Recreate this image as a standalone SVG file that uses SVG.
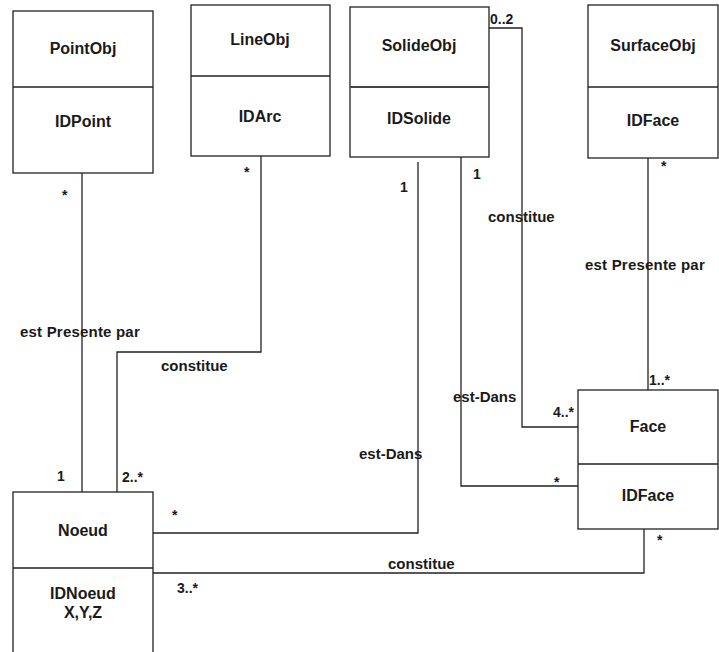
<svg xmlns="http://www.w3.org/2000/svg" width="719" height="652" viewBox="0 0 719 652">
<style>
.box{fill:#fff;stroke:#222;stroke-width:1.3}
.div{stroke:#222;stroke-width:1.3}
.conn{fill:none;stroke:#222;stroke-width:1.3}
.t{font-family:"Liberation Sans",Arial,sans-serif;font-size:16px;font-weight:bold;fill:#1a1a1a;text-anchor:middle}
.l{font-family:"Liberation Sans",Arial,sans-serif;font-size:15px;font-weight:bold;fill:#1a1a1a}
.m{font-family:"Liberation Sans",Arial,sans-serif;font-size:14px;font-weight:bold;fill:#1a1a1a}
</style>
<rect width="719" height="652" fill="#fff"/>
<g id="connectors">
<polyline class="conn" points="82,173 82,492"/>
<polyline class="conn" points="261,156 261,352 117,352 117,492"/>
<polyline class="conn" points="489,28 522,28 522,427 578,427"/>
<polyline class="conn" points="461,157 461,486 578,486"/>
<polyline class="conn" points="418,162 418,533 153,533"/>
<polyline class="conn" points="648,158 648,390"/>
<polyline class="conn" points="644,529 644,573 153,573"/>
<text class="l" x="20" y="337" letter-spacing="0.2">est Presente par</text>
<text class="l" x="161" y="371">constitue</text>
<text class="l" x="488" y="222">constitue</text>
<text class="l" x="585" y="270" letter-spacing="0.2">est Presente par</text>
<text class="l" x="453" y="402">est-Dans</text>
<text class="l" x="359" y="459">est-Dans</text>
<text class="l" x="388" y="569">constitue</text>
<text class="m" x="62" y="200">*</text>
<text class="m" x="244" y="177">*</text>
<text class="m" x="490" y="24">0..2</text>
<text class="m" x="400" y="192">1</text>
<text class="m" x="473" y="179">1</text>
<text class="m" x="661" y="171">*</text>
<text class="m" x="649" y="385">1..*</text>
<text class="m" x="553" y="417">4..*</text>
<text class="m" x="554" y="487">*</text>
<text class="m" x="657" y="545">*</text>
<text class="m" x="57" y="481">1</text>
<text class="m" x="122" y="482">2..*</text>
<text class="m" x="172" y="520">*</text>
<text class="m" x="177" y="593">3..*</text>
</g>
<g id="PointObj">
<rect class="box" x="13" y="11" width="140" height="162"/>
<line class="div" x1="13" y1="87" x2="153" y2="87"/>
<text class="t" x="83" y="54">PointObj</text>
<text class="t" x="83" y="127">IDPoint</text>
</g>
<g id="LineObj">
<rect class="box" x="191" y="5" width="139" height="151"/>
<line class="div" x1="191" y1="76" x2="330" y2="76"/>
<text class="t" x="260" y="45">LineObj</text>
<text class="t" x="260" y="122">IDArc</text>
</g>
<g id="SolideObj">
<rect class="box" x="350" y="7" width="139" height="150"/>
<line x1="350" y1="87" x2="489" y2="87" stroke="#444" stroke-width="2.2"/>
<text class="t" x="419" y="51">SolideObj</text>
<text class="t" x="419" y="124">IDSolide</text>
</g>
<g id="SurfaceObj">
<rect class="box" x="588" y="5" width="130" height="153"/>
<line class="div" x1="588" y1="87" x2="718" y2="87"/>
<text class="t" x="653" y="51">SurfaceObj</text>
<text class="t" x="653" y="126">IDFace</text>
</g>
<g id="Face">
<rect class="box" x="578" y="390" width="140" height="139"/>
<line class="div" x1="578" y1="464" x2="718" y2="464"/>
<text class="t" x="648" y="432">Face</text>
<text class="t" x="648" y="501">IDFace</text>
</g>
<g id="Noeud">
<rect class="box" x="13" y="492" width="140" height="170"/>
<line class="div" x1="13" y1="568" x2="153" y2="568"/>
<text class="t" x="83" y="536">Noeud</text>
<text class="t" x="83" y="599">IDNoeud</text>
<text class="t" x="83" y="618">X,Y,Z</text>
</g>
</svg>
